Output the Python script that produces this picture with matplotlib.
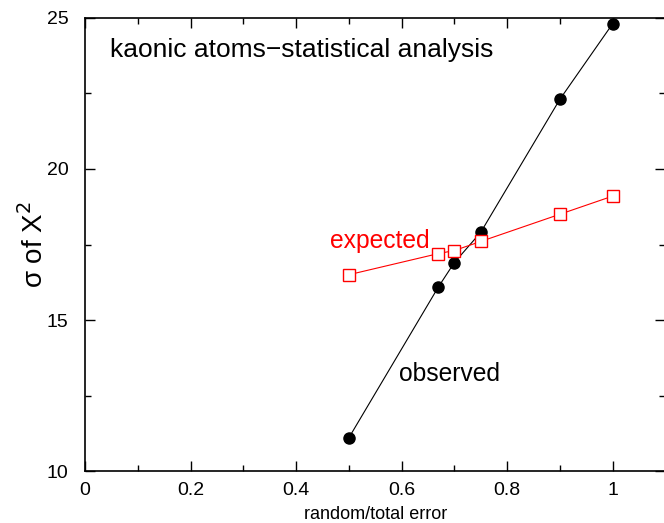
import matplotlib
matplotlib.use("agg")
import matplotlib.pyplot as plt
from matplotlib.ticker import MultipleLocator

plt.rcParams["font.family"] = ["Liberation Sans", "DejaVu Sans"]

# fraction of random error in total error
ratio = [0.5, 0.67, 0.7, 0.75, 0.9, 1.0]
observed = [11.1, 16.1, 16.9, 17.9, 22.3, 24.8]
expected = [16.5, 17.2, 17.3, 17.6, 18.5, 19.1]

fig = plt.figure(figsize=(6.64, 5.23), dpi=100)
ax = fig.add_axes([0.128, 0.099, 0.874, 0.867])

ax.plot(ratio, observed, color="black", linewidth=0.8,
        marker="o", markersize=8, markerfacecolor="black", markeredgecolor="black")
ax.plot(ratio, expected, color="red", linewidth=0.8,
        marker="s", markersize=8, markerfacecolor="white", markeredgecolor="red",
        markeredgewidth=1.0)

ax.text(0.047, 23.95, "kaonic atoms\u2212statistical analysis", fontsize=19,
        va="center", ha="left")
ax.text(0.464, 17.6, "expected", color="red", fontsize=17.7, va="center", ha="left")
ax.text(0.595, 13.2, "observed", color="black", fontsize=17.7, va="center", ha="left")

ax.set_xlim(0, 1.1)
ax.set_ylim(10, 25)
ax.xaxis.set_minor_locator(MultipleLocator(0.1))
ax.yaxis.set_major_locator(MultipleLocator(5))
ax.yaxis.set_minor_locator(MultipleLocator(2.5))
ax.set_xticks([0, 0.2, 0.4, 0.6, 0.8, 1.0])
ax.set_xticklabels(["0", "0.2", "0.4", "0.6", "0.8", "1"])

ax.tick_params(which="both", direction="in", top=True, right=True, labelsize=14, width=1)
ax.tick_params(which="major", length=7)
ax.tick_params(which="minor", length=4)
ax.tick_params(axis="y", which="major", pad=12)
ax.tick_params(axis="x", which="major", pad=8)
for s in ax.spines.values():
    s.set_linewidth(1.2)

ax.set_xlabel("random/total error", fontsize=13, labelpad=5)
ax.set_ylabel("\u03c3 of X$^2$", fontsize=20, labelpad=-2)

fig.savefig("out.png", dpi=100)
